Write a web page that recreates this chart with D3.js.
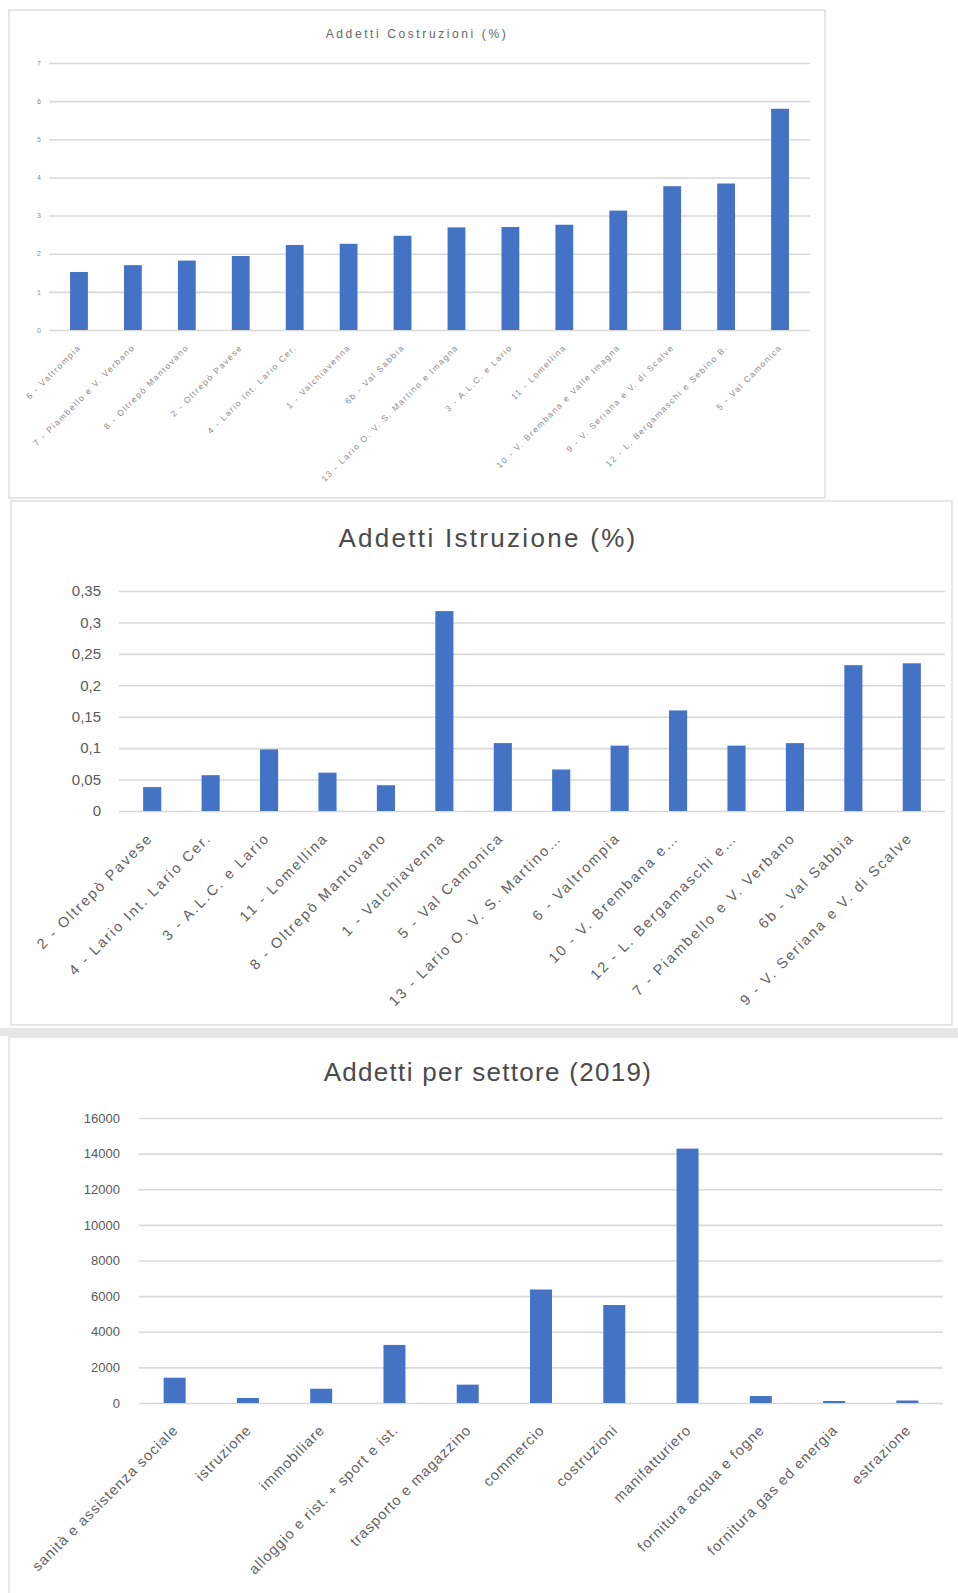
<!DOCTYPE html>
<html>
<head>
<meta charset="utf-8">
<script src="https://cdn.jsdelivr.net/npm/d3@7"></script>
<style>
  html, body { margin: 0; padding: 0; background: #ffffff; }
  svg { display: block; }
  text { font-family: "Liberation Sans", Arial, sans-serif; }
</style>
</head>
<body>
<svg id="chart" width="958" height="1593"></svg>
<script>
// ---------- Data ----------
const costruzioniCategories = [
  "6 - Valtrompia",
  "7 - Piambello e V. Verbano",
  "8 - Oltrepò Mantovano",
  "2 - Oltrepò Pavese",
  "4 - Lario Int. Lario Cer.",
  "1 - Valchiavenna",
  "6b - Val Sabbia",
  "13 - Lario O. V. S. Martino e Imagna",
  "3 - A.L.C. e Lario",
  "11 - Lomellina",
  "10 - V. Brembana e Valle Imagna",
  "9 - V. Seriana e V. di Scalve",
  "12 - L. Bergamaschi e Sebino B.",
  "5 - Val Camonica"
];
const costruzioniValues = [1.52, 1.70, 1.82, 1.94, 2.23, 2.26, 2.47, 2.69, 2.70, 2.76, 3.13, 3.77, 3.84, 5.80];
const costruzioniTicks = [0, 1, 2, 3, 4, 5, 6, 7];
const costruzioniTickLabels = ["0", "1", "2", "3", "4", "5", "6", "7"];

const istruzioneCategories = [
  "2 - Oltrepò Pavese",
  "4 - Lario Int. Lario Cer.",
  "3 - A.L.C. e Lario",
  "11 - Lomellina",
  "8 - Oltrepò Mantovano",
  "1 - Valchiavenna",
  "5 - Val Camonica",
  "13 - Lario O. V. S. Martino…",
  "6 - Valtrompia",
  "10 - V. Brembana e…",
  "12 - L. Bergamaschi e…",
  "7 - Piambello e V. Verbano",
  "6b - Val Sabbia",
  "9 - V. Seriana e V. di Scalve"
];
const istruzioneValues = [0.038, 0.057, 0.098, 0.061, 0.041, 0.318, 0.108, 0.066, 0.104, 0.160, 0.104, 0.108, 0.232, 0.235];
const istruzioneTicks = [0, 0.05, 0.1, 0.15, 0.2, 0.25, 0.3, 0.35];
const istruzioneTickLabels = ["0", "0,05", "0,1", "0,15", "0,2", "0,25", "0,3", "0,35"];

const settoreCategories = [
  "sanità e assistenza sociale",
  "istruzione",
  "immobiliare",
  "alloggio e rist. + sport e ist.",
  "trasporto e magazzino",
  "commercio",
  "costruzioni",
  "manifatturiero",
  "fornitura acqua e fogne",
  "fornitura gas ed energia",
  "estrazione"
];
const settoreValues = [1420, 280, 800, 3260, 1030, 6370, 5500, 14280, 390, 110, 140];
const settoreTicks = [0, 2000, 4000, 6000, 8000, 10000, 12000, 14000, 16000];
const settoreTickLabels = ["0", "2000", "4000", "6000", "8000", "10000", "12000", "14000", "16000"];

// ---------- Drawing ----------
const svg = d3.select("#chart");
const BAR = "#4472C4";
const GRID = "#d9d9d9";

svg.append("rect").attr("x", 0).attr("y", 1028).attr("width", 958).attr("height", 8).attr("fill", "#e6e6e6");

function panel(cfg) {
  const g = svg.append("g");
  g.append("rect")
    .attr("x", cfg.frame[0]).attr("y", cfg.frame[1])
    .attr("width", cfg.frame[2]).attr("height", cfg.frame[3])
    .attr("fill", "#ffffff").attr("stroke", "#d6d6d6").attr("stroke-width", 1.2);

  const x = d3.scalePoint().domain(cfg.categories).range(cfg.xRange).padding(0.5);
  const y = d3.scaleLinear().domain(cfg.yDomain).range(cfg.yRange);
  const bw = x.step() * cfg.barFrac;

  // gridlines
  const gg = g.append("g").attr("transform", `translate(${cfg.gridX[1]},0)`);
  gg.call(d3.axisRight(y).tickValues(cfg.ticks).tickSize(-(cfg.gridX[1] - cfg.gridX[0])).tickFormat(""));
  gg.select(".domain").remove();
  gg.selectAll(".tick line").attr("stroke", GRID).attr("stroke-width", cfg.gridW);

  // y tick labels
  const yl = g.append("g").attr("transform", `translate(${cfg.yLabelX},0)`);
  yl.call(d3.axisLeft(y).tickValues(cfg.ticks).tickSize(0).tickPadding(0)
    .tickFormat((d, i) => cfg.tickLabels[i]));
  yl.select(".domain").remove();
  yl.selectAll("text")
    .attr("fill", cfg.yColor)
    .style("font-size", cfg.yFont + "px")
    .style("font-family", "\"Liberation Sans\", Arial, sans-serif");

  // bars
  g.selectAll("rect.bar").data(cfg.values).enter().append("rect")
    .attr("class", "bar")
    .attr("x", (d, i) => x(cfg.categories[i]) - bw / 2)
    .attr("width", bw)
    .attr("y", d => y(d))
    .attr("height", d => y(0) - y(d))
    .attr("fill", BAR);

  // x labels
  const xa = g.append("g").attr("transform", `translate(0,${y(0)})`);
  xa.call(d3.axisBottom(x).tickSize(0).tickPadding(0));
  xa.select(".domain").remove();
  xa.selectAll("text")
    .attr("y", 0).attr("dy", 0)
    .attr("text-anchor", "end")
    .attr("transform", `translate(${cfg.xLabelDx},${cfg.xLabelDy}) rotate(-45)`)
    .attr("fill", cfg.textColor)
    .style("font-size", cfg.xFont + "px")
    .style("letter-spacing", cfg.xLS + "px")
    .style("font-family", "\"Liberation Sans\", Arial, sans-serif");

  // title
  g.append("text")
    .attr("x", cfg.title[1]).attr("y", cfg.title[2])
    .attr("dy", "0.35em")
    .attr("text-anchor", "middle")
    .attr("fill", cfg.titleColor)
    .style("font-size", cfg.titleFont + "px")
    .style("letter-spacing", cfg.titleLS + "px")
    .text(cfg.title[0]);
}

panel({
  frame: [9, 10, 816, 488],
  categories: costruzioniCategories, values: costruzioniValues,
  ticks: costruzioniTicks, tickLabels: costruzioniTickLabels,
  xRange: [52, 807], yDomain: [0, 7], yRange: [330, 63],
  barFrac: 0.33, gridX: [49, 810], gridW: 1.6,
  yLabelX: 41, yFont: 7, yColor: "#8a8a8a",
  xLabelDx: 2, xLabelDy: 18, xFont: 8.5, xLS: 1.5,
  textColor: "#8a8a8a", titleColor: "#666666",
  title: ["Addetti Costruzioni (%)", 417, 34], titleFont: 12, titleLS: 2.6
});

panel({
  frame: [11, 501, 941, 524],
  categories: istruzioneCategories, values: istruzioneValues,
  ticks: istruzioneTicks, tickLabels: istruzioneTickLabels,
  xRange: [123, 941], yDomain: [0, 0.35], yRange: [811, 591],
  barFrac: 0.31, gridX: [119, 945], gridW: 1.6,
  yLabelX: 101, yFont: 15, yColor: "#595959",
  xLabelDx: 1, xLabelDy: 28, xFont: 14.5, xLS: 2.0,
  textColor: "#5f5f5f", titleColor: "#4a4a4a",
  title: ["Addetti Istruzione (%)", 488, 538], titleFont: 26, titleLS: 2.3
});

panel({
  frame: [9, 1037, 960, 570],
  categories: settoreCategories, values: settoreValues,
  ticks: settoreTicks, tickLabels: settoreTickLabels,
  xRange: [138, 944], yDomain: [0, 16000], yRange: [1403, 1118],
  barFrac: 0.30, gridX: [139, 943], gridW: 1.6,
  yLabelX: 120, yFont: 13, yColor: "#595959",
  xLabelDx: 4, xLabelDy: 28, xFont: 14.5, xLS: 1.0,
  textColor: "#5f5f5f", titleColor: "#4a4a4a",
  title: ["Addetti per settore (2019)", 488, 1072], titleFont: 26, titleLS: 1.3
});
</script>
</body>
</html>
